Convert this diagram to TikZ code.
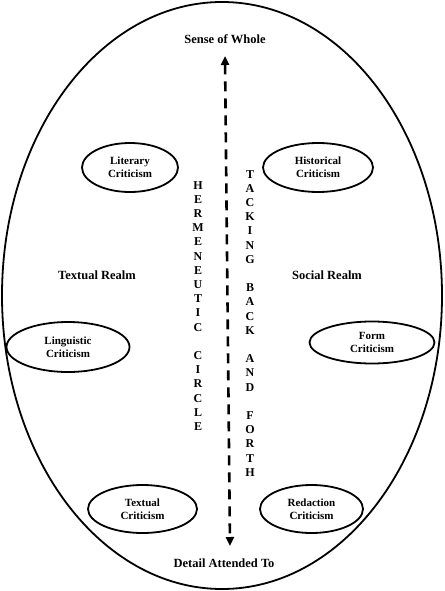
\documentclass[tikz,border=0pt]{standalone}
\usepackage{fontspec}
\setmainfont{Liberation Serif}
\usetikzlibrary{shapes.geometric,arrows.meta}
\tikzset{
  oval/.style={draw, line width=1.8pt, ellipse, inner sep=0pt, minimum width=#1},
  crit/.style={font=\fontsize{11}{13}\selectfont\bfseries, align=center},
  lbl/.style={font=\fontsize{12.5}{14}\selectfont\bfseries},
  vert/.style={font=\fontsize{12}{14.2}\selectfont\bfseries, align=center, inner sep=0pt},
}
\begin{document}
\begin{tikzpicture}[x=1pt,y=-1pt]
\useasboundingbox (0,0) rectangle (444,591);
\node[draw, ellipse, line width=1.8pt, minimum width=440pt, minimum height=587pt, inner sep=0pt] (outer) at (222,295.5) {};
\node[lbl] (whole) at (225,39) {Sense of Whole};
\node[lbl] (detail) at (224,563) {Detail Attended To};
\node[lbl] (textual) at (97,275) {Textual Realm};
\node[lbl] (social) at (327,275) {Social Realm};
\node[oval=96pt, minimum height=49pt, crit] (lit) at (130,167.5) {Literary\\Criticism};
\node[oval=110pt, minimum height=49pt, crit] (hist) at (318,167.5) {Historical\\Criticism};
\node[oval=123pt, minimum height=50pt, crit] (ling) at (68,347) {Linguistic\\Criticism};
\node[oval=125pt, minimum height=42pt, crit] (form) at (372,342.5) {Form\\Criticism};
\node[oval=109pt, minimum height=48pt, crit] (text) at (142.5,509) {Textual\\Criticism};
\node[oval=103pt, minimum height=48pt, crit] (red) at (311.5,509) {Redaction\\Criticism};
\node[vert, anchor=north] (herm) at (198,181) {H\\E\\R\\M\\E\\N\\E\\U\\T\\I\\C\\[14.2pt]C\\I\\R\\C\\L\\E};
\node[vert, anchor=north] (tack) at (250,170) {T\\A\\C\\K\\I\\N\\G\\[14.2pt]B\\A\\C\\K\\[14.2pt]A\\N\\D\\[14.2pt]F\\O\\R\\T\\H};
\coordinate (atop) at (225,56);
\coordinate (abot) at (230,546);
\draw[line width=2.6pt, dash pattern=on 10pt off 7pt, {Triangle[width=8pt,length=9pt]}-{Triangle[width=8pt,length=9pt]}] (atop) -- (abot);
\end{tikzpicture}
\end{document}
